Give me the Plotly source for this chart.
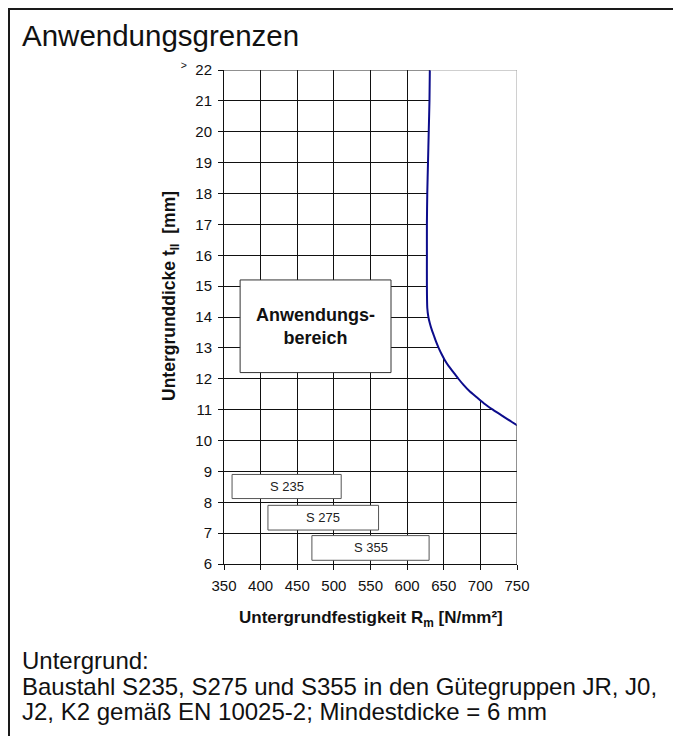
import plotly.graph_objects as go

# ---------------- data ----------------
curve_t = [22, 21, 20, 19, 18, 17, 16, 15, 14.3, 14.0, 13.8, 13.6, 13.4, 13.2, 13.0,
           12.8, 12.6, 12.4, 12.2, 12.0, 11.8, 11.6, 11.4, 11.2, 11.0, 10.8, 10.6, 10.5]
curve_rm = [631, 630.5, 629.5, 628.5, 627.5, 627, 627, 627, 627.5, 629, 631, 633.5,
            636.5, 639.5, 643, 647, 651.5, 657, 663.5, 670, 677, 685, 695, 705, 717,
            730, 743, 750]

grade_labels = ["S 235", "S 275", "S 355"]
grade_rm_min = [361, 410, 470]
grade_rm_max = [510, 561, 630]

x_ticks = [350, 400, 450, 500, 550, 600, 650, 700, 750]
y_ticks = list(range(6, 23))
y_ticktext = [str(v) for v in y_ticks[:-1]] + ["<sup>></sup>  22"]

title_text = "Anwendungsgrenzen"
region_text = "<b>Anwendungs-</b><br><b>bereich</b>"
x_title = "<b>Untergrundfestigkeit R<sub>m</sub> [N/mm²]</b>"
y_title = "<b>Untergrunddicke t<sub>II</sub>  [mm]</b>"
note_lines = ["Untergrund:",
              "Baustahl S235, S275 und S355 in den Gütegruppen JR, J0,",
              "J2, K2 gemäß EN 10025-2; Mindestdicke = 6 mm"]

# ---------------- layout constants ----------------
OFF = 8                      # page body margin
W, H = 681 - OFF, 736 - OFF
L, R, T, B = 224 - OFF, 164, 70 - OFF, 172
FONT = "Arial, 'Liberation Sans', sans-serif"
grade_t_low = [8.12, 7.1, 6.12]
grade_t_high = [8.9, 7.9, 6.92]
region_box = dict(x0=372, x1=578, y0=12.2, y1=15.2)

pw, ph = W - L - R, H - T - B
def px(x):           # page pixel -> paper x
    return (x - OFF - L) / pw
def py(y):           # page pixel -> paper y
    return (H - B - (y - OFF)) / ph

fig = go.Figure()

# white area outside the application limit (hides grid to the right of the curve)
fig.add_trace(go.Scatter(
    x=curve_rm + [x_ticks[-1]], y=curve_t + [y_ticks[-1]],
    mode="lines", fill="toself", fillcolor="white",
    line=dict(width=0, color="white"), hoverinfo="skip", showlegend=False))

# limit curve
fig.add_trace(go.Scatter(
    x=curve_rm, y=curve_t, mode="lines", line_shape="spline",
    line=dict(color="#0c0c8c", width=2, smoothing=0.6), hoverinfo="skip", showlegend=False))

shapes = []
# plot border pieces
shapes.append(dict(type="line", xref="x", yref="y", x0=x_ticks[0], x1=curve_rm[0],
                   y0=y_ticks[-1], y1=y_ticks[-1], line=dict(color="#222", width=1)))
shapes.append(dict(type="line", xref="x", yref="y", x0=curve_rm[0], x1=x_ticks[-1],
                   y0=y_ticks[-1], y1=y_ticks[-1], line=dict(color="#a0a0a0", width=1)))
shapes.append(dict(type="line", xref="x", yref="y", x0=x_ticks[-1], x1=x_ticks[-1],
                   y0=y_ticks[0], y1=curve_t[-1], line=dict(color="#222", width=1)))
shapes.append(dict(type="line", xref="x", yref="y", x0=x_ticks[-1], x1=x_ticks[-1],
                   y0=curve_t[-1], y1=y_ticks[-1], line=dict(color="#a0a0a0", width=1)))

# application region box
shapes.append(dict(type="rect", xref="x", yref="y", fillcolor="white",
                   line=dict(color="#333", width=1), **region_box))

# steel grade boxes
for lab, a, b, lo, hi in zip(grade_labels, grade_rm_min, grade_rm_max, grade_t_low, grade_t_high):
    shapes.append(dict(type="rect", xref="x", yref="y", x0=a, x1=b, y0=lo, y1=hi,
                       fillcolor="white", line=dict(color="#555", width=1)))

# outer frame (top and left)
shapes.append(dict(type="line", xref="paper", yref="paper", x0=px(8), x1=px(700),
                   y0=py(9), y1=py(9), line=dict(color="#1a1a1a", width=2)))
shapes.append(dict(type="line", xref="paper", yref="paper", x0=px(9), x1=px(9),
                   y0=py(8), y1=py(760), line=dict(color="#1a1a1a", width=2)))

annotations = []
annotations.append(dict(text=region_text, xref="x", yref="y",
                        x=(region_box["x0"] + region_box["x1"]) / 2,
                        y=(region_box["y0"] + region_box["y1"]) / 2,
                        showarrow=False, font=dict(family=FONT, size=18, color="#111")))
for lab, a, b, lo, hi in zip(grade_labels, grade_rm_min, grade_rm_max, grade_t_low, grade_t_high):
    annotations.append(dict(text=lab, xref="x", yref="y", x=(a + b) / 2, y=(lo + hi) / 2,
                            showarrow=False, font=dict(family=FONT, size=13, color="#222")))

# axis titles
annotations.append(dict(text=x_title, xref="paper", yref="paper", x=px(371), y=py(619),
                        xanchor="center", yanchor="middle", showarrow=False,
                        font=dict(family=FONT, size=17, color="#111")))
annotations.append(dict(text=y_title, xref="paper", yref="paper", x=px(170), y=py(296),
                        xanchor="center", yanchor="middle", showarrow=False, textangle=-90,
                        font=dict(family=FONT, size=17.5, color="#111")))

annotations.append(dict(text=title_text, xref="paper", yref="paper", x=px(20), y=py(35),
                        xanchor="left", yanchor="middle", showarrow=False,
                        font=dict(family=FONT, size=29.5, color="#111")))
for line, yy in zip(note_lines, [660, 686, 711]):
    annotations.append(dict(text=line, xref="paper", yref="paper", x=px(20), y=py(yy),
                            xanchor="left", yanchor="middle", showarrow=False,
                            font=dict(family=FONT, size=24, color="#111")))

fig.update_layout(
    width=W, height=H,
    margin=dict(l=L, r=R, t=T, b=B, pad=0),
    paper_bgcolor="white", plot_bgcolor="white",
    showlegend=False,
    shapes=shapes, annotations=annotations,
    font=dict(family=FONT, color="#111"),
)
fig.update_xaxes(range=[x_ticks[0], x_ticks[-1]], tickvals=x_ticks,
                 showgrid=True, gridcolor="#111", gridwidth=1,
                 showline=True, linecolor="#111", linewidth=1,
                 ticks="outside", ticklen=5, tickcolor="#111", ticklabelstandoff=3,
                 tickfont=dict(family=FONT, size=15, color="#111"),
                 zeroline=False, fixedrange=True)
fig.update_yaxes(range=[y_ticks[0], y_ticks[-1]], tickvals=y_ticks, ticktext=y_ticktext,
                 showgrid=True, gridcolor="#111", gridwidth=1,
                 showline=True, linecolor="#111", linewidth=1,
                 ticks="outside", ticklen=5, tickcolor="#111", ticklabelstandoff=3,
                 tickfont=dict(family=FONT, size=15, color="#111"),
                 zeroline=False, fixedrange=True)

fig.write_html("out.html")
